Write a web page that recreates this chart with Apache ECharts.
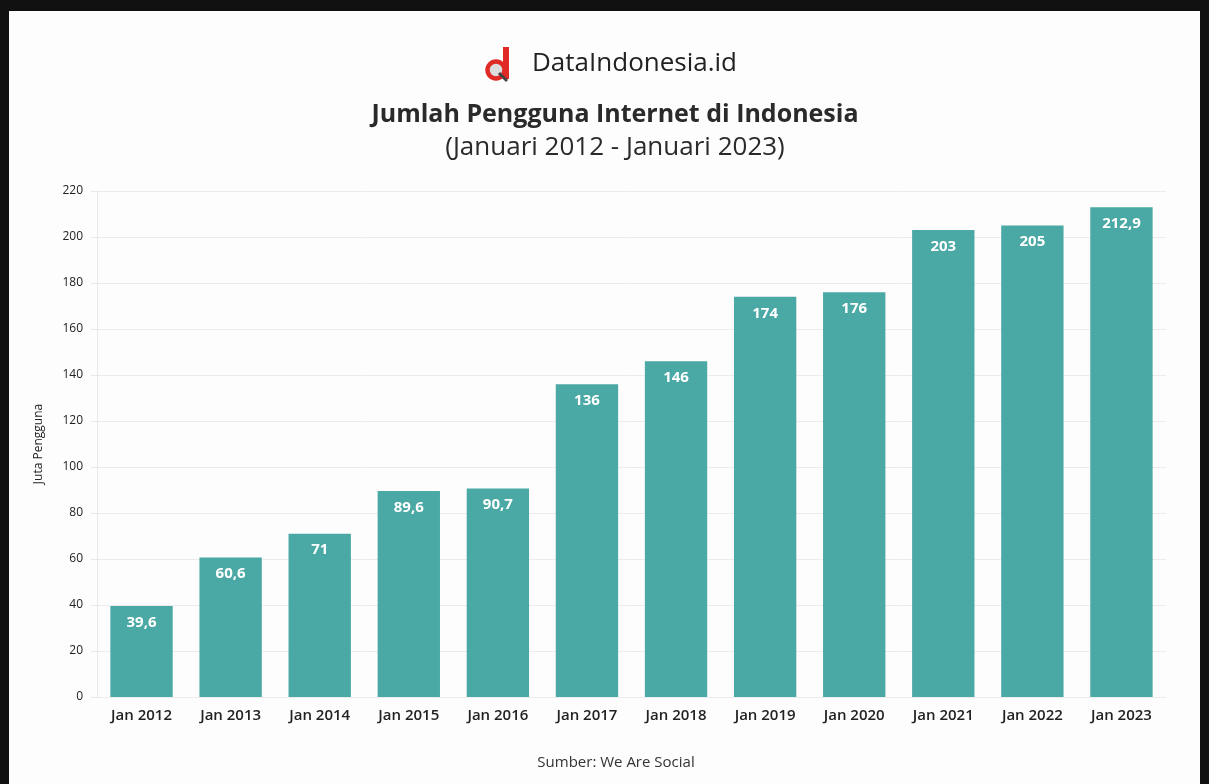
<!DOCTYPE html>
<html><head><meta charset="utf-8">
<script src="https://cdn.jsdelivr.net/npm/echarts@6/dist/echarts.min.js"></script>
<style>
html,body{margin:0;padding:0;background:#111;}
#frame{position:absolute;left:0;top:0;width:1209px;height:784px;background:#111;}
#chart{position:absolute;left:9px;top:11px;width:1191px;height:773px;background:#fdfdfd;}
</style></head>
<body><div id="frame"><div id="chart"></div></div>
<script>
const categories = ['Jan 2012','Jan 2013','Jan 2014','Jan 2015','Jan 2016','Jan 2017','Jan 2018','Jan 2019','Jan 2020','Jan 2021','Jan 2022','Jan 2023'];
const users = [39.6, 60.6, 71, 89.6, 90.7, 136, 146, 174, 176, 203, 205, 212.9];
const yTicks = [0, 20, 40, 60, 80, 100, 120, 140, 160, 180, 200, 220];

const chart = echarts.init(document.getElementById('chart'));
const ox = 9, oy = 11;
chart.setOption({
  backgroundColor: '#fdfdfd',
  animation: false,
  textStyle: {fontFamily: 'Open Sans'},
  graphic: [
    {type:'circle', shape:{cx:496-ox, cy:70-oy, r:8.5}, style:{fill:'#ddd', stroke:'#e02a26', lineWidth:4.5}},
    {type:'rect', shape:{x:503-ox, y:47-oy, width:6, height:32}, style:{fill:'#e02a26'}},
    {type:'line', shape:{x1:499-ox, y1:73-oy, x2:507-ox, y2:81-oy}, style:{stroke:'#444', lineWidth:3}},
    {type:'text', left:532-ox, top:51-oy, style:{text:'DataIndonesia.id', font:'26px "Open Sans"', fill:'#222'}},
    {type:'text', x:615-ox, y:102-oy, style:{text:'Jumlah Pengguna Internet di Indonesia', align:'center', verticalAlign:'top', font:'bold 25px "Open Sans"', fill:'#2a2a2a'}},
    {type:'text', x:615-ox, y:135-oy, style:{text:'(Januari 2012 - Januari 2023)', align:'center', verticalAlign:'top', font:'26px "Open Sans"', fill:'#2a2a2a'}},
    {type:'text', x:616-ox, y:755-oy, style:{text:'Sumber: We Are Social', align:'center', verticalAlign:'top', font:'15px "Open Sans"', fill:'#333'}}
  ],
  grid: {left: 97-ox, right: 1200-1166, top: 191-oy, bottom: 784-697, containLabel: false},
  xAxis: {
    type: 'category', data: categories,
    axisLine: {show: false}, axisTick: {show: false},
    axisLabel: {color: '#222', fontSize: 15, fontWeight: 600, margin: 11, interval: 0}
  },
  yAxis: {
    type: 'value', min: 0, max: 220, interval: 20,
    name: 'Juta Pengguna', nameLocation: 'middle', nameGap: 52, nameRotate: 90,
    nameTextStyle: {fontSize: 12, color: '#222'},
    axisLine: {show: true, lineStyle: {color: '#e8e8e8'}},
    axisTick: {show: true, length: 6, lineStyle: {color: '#e8e8e8'}},
    axisLabel: {color: '#222', fontSize: 12, margin: 14,
      formatter: v => yTicks.includes(v) ? String(v) : ''},
    splitLine: {lineStyle: {color: '#ececec'}}
  },
  series: [{
    type: 'bar', data: users, barWidth: '70%',
    itemStyle: {color: '#4aa9a4'},
    label: {show: true, position: 'insideTop', distance: 9, color: '#fff', fontWeight: 'bold', fontSize: 15,
      formatter: p => String(p.value).replace('.', ',')}
  }]
});
</script></body></html>
